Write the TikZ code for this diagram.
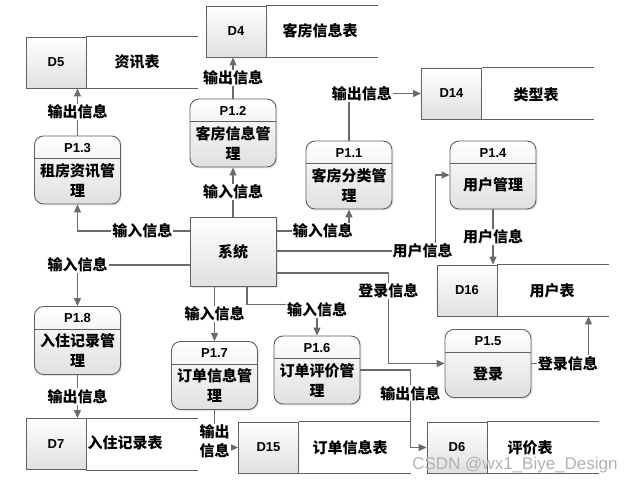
\documentclass[tikz,border=0pt]{standalone}
\usepackage{fontspec}
\setmainfont{Noto Sans CJK SC}
\newfontfamily\titlefont{Liberation Sans}
\usetikzlibrary{arrows.meta,shadows}

\definecolor{flowgray}{HTML}{6A6A6A}
\definecolor{boxedge}{HTML}{606060}
\definecolor{boxshade}{HTML}{E0E0E0}

\tikzset{
  proc/.style={draw=boxedge,line width=0.9pt,rounded corners=9pt,top color=white,bottom color=boxshade,
    minimum width=86pt,minimum height=68pt,drop shadow={shadow xshift=1.5pt,shadow yshift=-1.5pt,opacity=0.2}},
  sysbox/.style={draw=boxedge,line width=0.9pt,top color=white,bottom color=boxshade,
    minimum width=86pt,minimum height=69pt,drop shadow={shadow xshift=1.5pt,shadow yshift=-1.5pt,opacity=0.2}},
  sepline/.style={draw=boxedge,line width=0.9pt},
  ptitle/.style={inner sep=0pt,font=\titlefont\bfseries\fontsize{13}{15}\selectfont},
  pbody/.style={inner sep=0pt,align=center,font=\bfseries\fontsize{15}{20}\selectfont},
  dcell/.style={draw=boxedge,line width=0.9pt,top color=white,bottom color=boxshade,minimum width=60pt,
    minimum height=51pt,inner sep=0pt,font=\titlefont\bfseries\fontsize{13}{15}\selectfont},
  dname/.style={inner sep=0pt,font=\bfseries\fontsize{15}{18}\selectfont},
  dline/.style={draw=boxedge,line width=0.9pt},
  flow/.style={draw=flowgray,line width=1.1pt,-{Triangle[length=8pt,width=7pt]}},
  lbl/.style={fill=white,inner sep=1pt,align=center,font=\bfseries\fontsize{15}{19}\selectfont}
}

\begin{document}
\begin{tikzpicture}[x=1pt,y=-1pt]
    \useasboundingbox (0,0) rectangle (638,484);

    % data stores
    \node (d5) at (56,62.5) [dcell] {D5};
    \draw[dline] (d5.north east) -- ++(112,0);
    \draw[dline] (d5.south east) -- ++(112,0);
    \node (d5n) at (137,62) [dname] {资讯表};

    \node (d4) at (236,31.5) [dcell] {D4};
    \draw[dline] (d4.north east) -- ++(112,0);
    \draw[dline] (d4.south east) -- ++(112,0);
    \node (d4n) at (320,31) [dname] {客房信息表};

    \node (d14) at (451.5,93.5) [dcell] {D14};
    \draw[dline] (d14.north east) -- ++(112,0);
    \draw[dline] (d14.south east) -- ++(112,0);
    \node (d14n) at (536,95) [dname] {类型表};

    \node (d16) at (467,290.5) [dcell] {D16};
    \draw[dline] (d16.north east) -- ++(112,0);
    \draw[dline] (d16.south east) -- ++(112,0);
    \node (d16n) at (552,291) [dname] {用户表};

    \node (d7) at (56,444) [dcell] {D7};
    \draw[dline] (d7.north east) -- ++(112,0);
    \draw[dline] (d7.south east) -- ++(112,0);
    \node (d7n) at (125,443) [dname] {入住记录表};

    \node (d15) at (268.5,447.5) [dcell] {D15};
    \draw[dline] (d15.north east) -- ++(112,0);
    \draw[dline] (d15.south east) -- ++(112,0);
    \node (d15n) at (350,448) [dname] {订单信息表};

    \node (d6) at (457,447.5) [dcell] {D6};
    \draw[dline] (d6.north east) -- ++(112,0);
    \draw[dline] (d6.south east) -- ++(112,0);
    \node (d6n) at (530,448) [dname] {评价表};

    % processes
    \node (p13) at (77.5,170) [proc] {};
    \draw[sepline] ([yshift=-23pt]p13.north west) -- ([yshift=-23pt]p13.north east);
    \node (p13h) at ([yshift=-12pt]p13.north) [ptitle] {P1.3};
    \node (p13b) at ([yshift=-10pt]p13.center) [pbody] {租房资讯管\\理};

    \node (p12) at (233,133) [proc] {};
    \draw[sepline] ([yshift=-23pt]p12.north west) -- ([yshift=-23pt]p12.north east);
    \node (p12h) at ([yshift=-12pt]p12.north) [ptitle] {P1.2};
    \node (p12b) at ([yshift=-10pt]p12.center) [pbody] {客房信息管\\理};

    \node (p11) at (349,175) [proc] {};
    \draw[sepline] ([yshift=-23pt]p11.north west) -- ([yshift=-23pt]p11.north east);
    \node (p11h) at ([yshift=-12pt]p11.north) [ptitle] {P1.1};
    \node (p11b) at ([yshift=-10pt]p11.center) [pbody] {客房分类管\\理};

    \node (p14) at (493,175) [proc] {};
    \draw[sepline] ([yshift=-23pt]p14.north west) -- ([yshift=-23pt]p14.north east);
    \node (p14h) at ([yshift=-12pt]p14.north) [ptitle] {P1.4};
    \node (p14b) at ([yshift=-10pt]p14.center) [pbody] {用户管理};

    \node (p18) at (77.5,340.5) [proc] {};
    \draw[sepline] ([yshift=-23pt]p18.north west) -- ([yshift=-23pt]p18.north east);
    \node (p18h) at ([yshift=-12pt]p18.north) [ptitle] {P1.8};
    \node (p18b) at ([yshift=-10pt]p18.center) [pbody] {入住记录管\\理};

    \node (p17) at (214.5,375.5) [proc] {};
    \draw[sepline] ([yshift=-23pt]p17.north west) -- ([yshift=-23pt]p17.north east);
    \node (p17h) at ([yshift=-12pt]p17.north) [ptitle] {P1.7};
    \node (p17b) at ([yshift=-10pt]p17.center) [pbody] {订单信息管\\理};

    \node (p16) at (317,370) [proc] {};
    \draw[sepline] ([yshift=-23pt]p16.north west) -- ([yshift=-23pt]p16.north east);
    \node (p16h) at ([yshift=-12pt]p16.north) [ptitle] {P1.6};
    \node (p16b) at ([yshift=-10pt]p16.center) [pbody] {订单评价管\\理};

    \node (p15) at (488,363.5) [proc] {};
    \draw[sepline] ([yshift=-23pt]p15.north west) -- ([yshift=-23pt]p15.north east);
    \node (p15h) at ([yshift=-12pt]p15.north) [ptitle] {P1.5};
    \node (p15b) at ([yshift=-10pt]p15.center) [pbody] {登录};

    % system
    \node (sys) at (233,251.5) [sysbox,font=\bfseries\fontsize{15}{18}\selectfont] {系统};

    % flows
    \draw[flow] (sys.west |- 0,231) -| node[lbl,pos=0.21] {输入信息} (p13.south);
    \draw[flow] (sys.north) -- node[lbl] {输入信息} (p12.south);
    \draw[flow] (p12.north) -- node[lbl] {输出信息} (p12.north |- d4.south);
    \draw[flow] (p13.north) -- node[lbl] {输出信息} (p13.north |- d5.south);
    \draw[flow] (sys.east |- 0,231) -| node[lbl,pos=0.32] {输入信息} (p11.south);
    \draw[flow] (p11.north) |- node[lbl,pos=0.59] {输出信息} (d14.west);
    \draw[flow] (sys.east |- 0,251) -- node[lbl,pos=0.92] {用户信息} ++(159,0) |- (p14.west);
    \draw[flow] (p14.south) -- node[lbl] {用户信息} (p14.south |- d16.north);
    \draw[flow] (sys.east |- 0,273) -- ++(112,0) |- node[lbl,pos=0.1] {登录信息} (p15.west);
    \draw[flow] (p15.east) -| node[lbl,pos=0.32] {登录信息} ([xshift=91pt]d16.south east);
    \draw[flow] (sys.west |- 0,265) -| node[lbl,pos=0.5] {输入信息} (p18.north);
    \draw[flow] (p18.south) -- node[lbl] {输出信息} (p18.south |- d7.north);
    \draw[flow] (p17.north |- sys.south) -- node[lbl] {输入信息} (p17.north);
    \draw[flow] (sys.south -| 247,0) -- ++(0,18) -| node[lbl,pos=0.58] {输入信息} (p16.north);
    \draw[flow] (p17.south) |- node[lbl,pos=0.42] {输出\\信息} (d15.west);
    \draw[flow] (p16.east) -- ++(50,0) |- node[lbl,pos=0.15] {输出信息} (d6.west);

    \node (mark) at (515,465) [text=gray!60,font=\titlefont\fontsize{17}{20}\selectfont] {CSDN @wx1\_Biye\_Design};

\end{tikzpicture}
\end{document}
